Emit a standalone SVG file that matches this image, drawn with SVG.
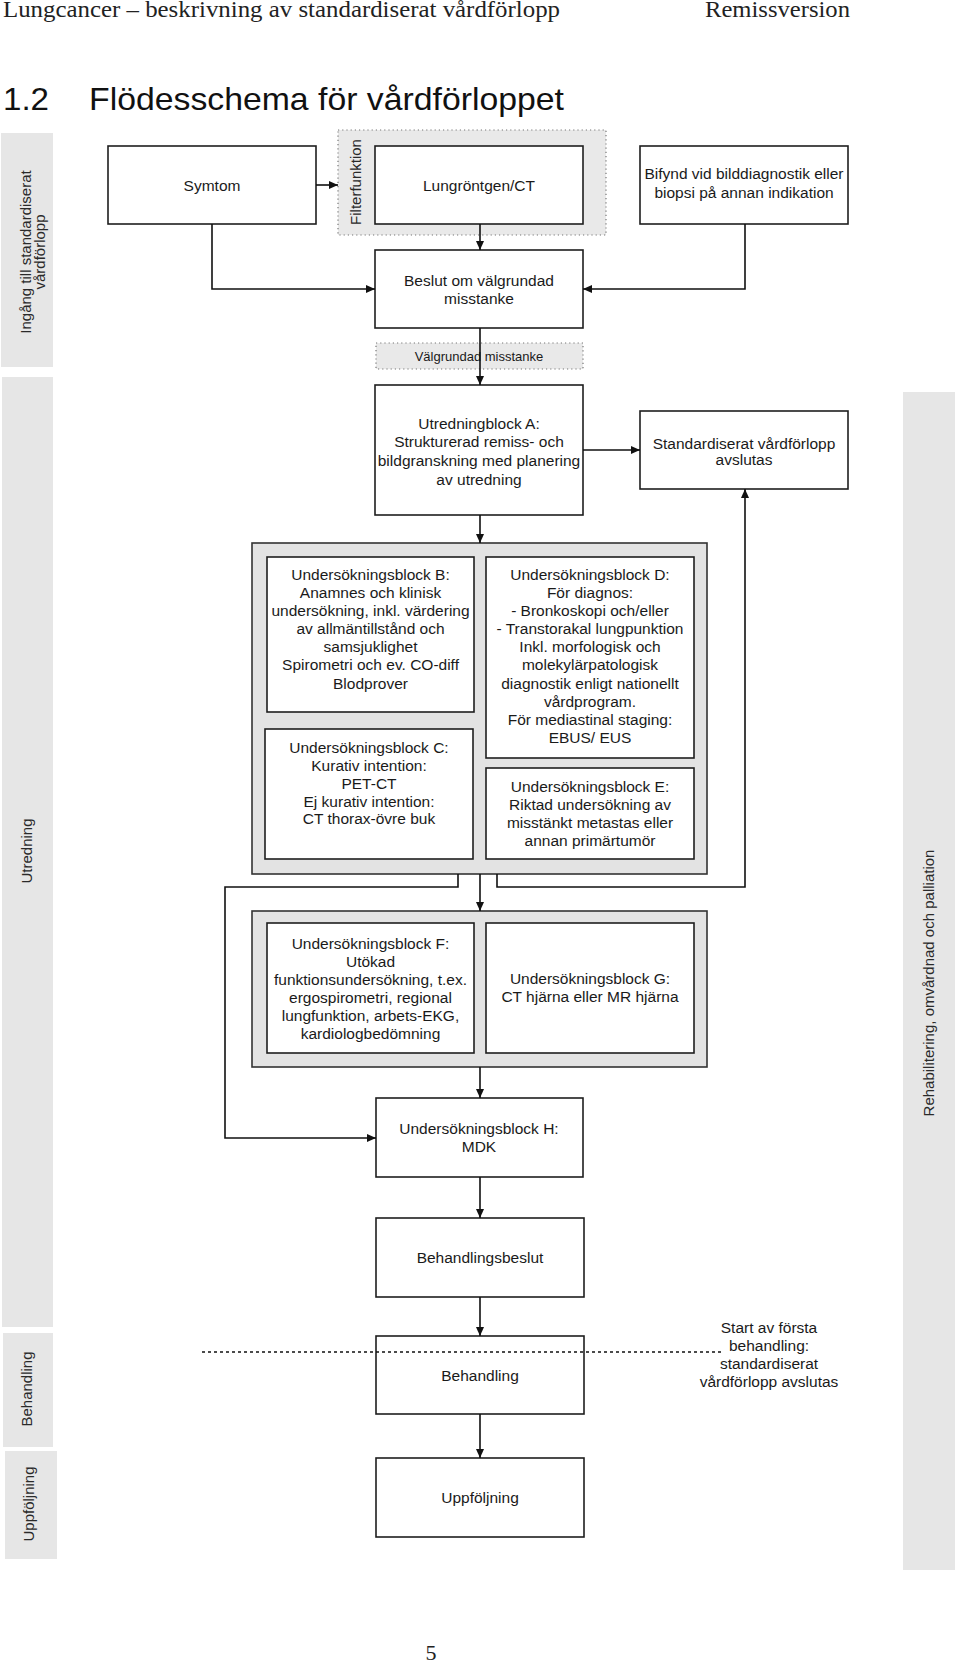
<svg xmlns="http://www.w3.org/2000/svg" width="960" height="1663" viewBox="0 0 960 1663">
<style>
.bg{fill:#ffffff}
.lane{fill:#e6e6e6}
.box{fill:#ffffff;stroke:#1e1e1e;stroke-width:1.6}
.cont{fill:#e3e3e3;stroke:#333333;stroke-width:1.6}
.dot{fill:#e9e9e9;stroke:#777777;stroke-width:1.2;stroke-dasharray:1.2,3}
.t{font-family:"Liberation Sans",Arial,sans-serif;font-size:15.5px;fill:#1a1a1a;text-anchor:middle}
.ts{font-family:"Liberation Sans",Arial,sans-serif;font-size:13px;fill:#1a1a1a;text-anchor:middle}
.lt{font-family:"Liberation Sans",Arial,sans-serif;font-size:15px;fill:#2a2a2a;text-anchor:middle}
.serif{font-family:"Liberation Serif","Times New Roman",serif;fill:#222222}
.conn{fill:none;stroke:#111111;stroke-width:1.6}
</style>
<defs>
<marker id="ah" markerWidth="9" markerHeight="8" refX="9" refY="4" orient="auto" markerUnits="userSpaceOnUse">
<path d="M0,0 L9,4 L0,8 z" fill="#111111"/>
</marker>
</defs>
<rect class="bg" x="0" y="0" width="960" height="1663"/>

<g id="header">
<text class="serif" x="3" y="17" font-size="23" textLength="557" lengthAdjust="spacingAndGlyphs">Lungcancer – beskrivning av standardiserat vårdförlopp</text>
<text class="serif" x="705" y="17" font-size="23" textLength="145" lengthAdjust="spacingAndGlyphs">Remissversion</text>
<text x="3" y="110" font-family="'Liberation Sans',Arial,sans-serif" font-size="32" fill="#111" textLength="46" lengthAdjust="spacingAndGlyphs">1.2</text>
<text x="89" y="110" font-family="'Liberation Sans',Arial,sans-serif" font-size="32" fill="#111" textLength="475" lengthAdjust="spacingAndGlyphs">Flödesschema för vårdförloppet</text>
</g>

<g id="lanes">
<g id="lane-ingang">
<rect class="lane" x="1" y="133" width="52" height="234"/>
<text class="lt" transform="translate(31,252) rotate(-90)">Ingång till standardiserat</text>
<text class="lt" transform="translate(45,252) rotate(-90)">vårdförlopp</text>
</g>
<g id="lane-utredning">
<rect class="lane" x="2" y="377" width="51" height="950"/>
<text class="lt" transform="translate(32,851) rotate(-90)">Utredning</text>
</g>
<g id="lane-behandling">
<rect class="lane" x="3" y="1333" width="50" height="114"/>
<text class="lt" transform="translate(32,1389) rotate(-90)">Behandling</text>
</g>
<g id="lane-uppfoljning">
<rect class="lane" x="5" y="1451" width="52" height="108"/>
<text class="lt" transform="translate(34,1504) rotate(-90)">Uppföljning</text>
</g>
<g id="lane-rehab">
<rect class="lane" x="903" y="392" width="52" height="1178"/>
<text class="lt" transform="translate(934,983) rotate(-90)">Rehabilitering, omvårdnad och palliation</text>
</g>
</g>

<g id="filterfunktion">
<rect class="dot" x="338" y="130" width="268" height="105"/>
<text class="lt" transform="translate(361,182) rotate(-90)">Filterfunktion</text>
</g>

<g id="symtom">
<rect class="box" x="108" y="146" width="208" height="78"/>
<text class="t" x="212" y="190.5">Symtom</text>
</g>
<g id="lungrontgen">
<rect class="box" x="375" y="146" width="208" height="78"/>
<text class="t" x="479" y="190.5">Lungröntgen/CT</text>
</g>
<g id="bifynd">
<rect class="box" x="640" y="146" width="208" height="78"/>
<text class="t" x="744" y="178.5">Bifynd vid bilddiagnostik eller</text>
<text class="t" x="744" y="197.5">biopsi på annan indikation</text>
</g>
<g id="beslut">
<rect class="box" x="375" y="250" width="208" height="78"/>
<text class="t" x="479" y="285.5">Beslut om välgrundad</text>
<text class="t" x="479" y="303.5">misstanke</text>
</g>
<g id="valgrundad">
<rect class="dot" x="376" y="343" width="207" height="26"/>
<text class="ts" x="479" y="360.5">Välgrundad misstanke</text>
</g>
<g id="blockA">
<rect class="box" x="375" y="385" width="208" height="130"/>
<text class="t" x="479" y="428.5">Utredningblock A:</text>
<text class="t" x="479" y="447">Strukturerad remiss- och</text>
<text class="t" x="479" y="466">bildgranskning med planering</text>
<text class="t" x="479" y="484.5">av utredning</text>
</g>
<g id="avslutas">
<rect class="box" x="640" y="411" width="208" height="78"/>
<text class="t" x="744" y="448.5">Standardiserat vårdförlopp</text>
<text class="t" x="744" y="465">avslutas</text>
</g>

<g id="container1">
<rect class="cont" x="252" y="543" width="455" height="331"/>
</g>
<g id="blockB">
<rect class="box" x="267" y="557" width="207" height="155"/>
<text class="t" x="370.5" y="579.5">Undersökningsblock B:</text>
<text class="t" x="370.5" y="597.5">Anamnes och klinisk</text>
<text class="t" x="370.5" y="615.5">undersökning, inkl. värdering</text>
<text class="t" x="370.5" y="633.5">av allmäntillstånd och</text>
<text class="t" x="370.5" y="652">samsjuklighet</text>
<text class="t" x="370.5" y="670">Spirometri och ev. CO-diff</text>
<text class="t" x="370.5" y="688.5">Blodprover</text>
</g>
<g id="blockC">
<rect class="box" x="265" y="729" width="208" height="130"/>
<text class="t" x="369" y="752.5">Undersökningsblock C:</text>
<text class="t" x="369" y="770.5">Kurativ intention:</text>
<text class="t" x="369" y="788.5">PET-CT</text>
<text class="t" x="369" y="806.5">Ej kurativ intention:</text>
<text class="t" x="369" y="823.5">CT thorax-övre buk</text>
</g>
<g id="blockD">
<rect class="box" x="486" y="557" width="208" height="201"/>
<text class="t" x="590" y="579.5">Undersökningsblock D:</text>
<text class="t" x="590" y="597.5">För diagnos:</text>
<text class="t" x="590" y="615.5">- Bronkoskopi och/eller</text>
<text class="t" x="590" y="633.5">- Transtorakal lungpunktion</text>
<text class="t" x="590" y="652">Inkl. morfologisk och</text>
<text class="t" x="590" y="670">molekylärpatologisk</text>
<text class="t" x="590" y="688.5">diagnostik enligt nationellt</text>
<text class="t" x="590" y="707">vårdprogram.</text>
<text class="t" x="590" y="724.5">För mediastinal staging:</text>
<text class="t" x="590" y="742.5">EBUS/ EUS</text>
</g>
<g id="blockE">
<rect class="box" x="486" y="768" width="208" height="91"/>
<text class="t" x="590" y="791.5">Undersökningsblock E:</text>
<text class="t" x="590" y="809.5">Riktad undersökning av</text>
<text class="t" x="590" y="827.5">misstänkt metastas eller</text>
<text class="t" x="590" y="845.5">annan primärtumör</text>
</g>

<g id="container2">
<rect class="cont" x="252" y="911" width="455" height="156"/>
</g>
<g id="blockF">
<rect class="box" x="267" y="923" width="207" height="130"/>
<text class="t" x="370.5" y="948.5">Undersökningsblock F:</text>
<text class="t" x="370.5" y="966.5">Utökad</text>
<text class="t" x="370.5" y="984.5">funktionsundersökning, t.ex.</text>
<text class="t" x="370.5" y="1002.5">ergospirometri, regional</text>
<text class="t" x="370.5" y="1020.5">lungfunktion, arbets-EKG,</text>
<text class="t" x="370.5" y="1038.5">kardiologbedömning</text>
</g>
<g id="blockG">
<rect class="box" x="486" y="923" width="208" height="130"/>
<text class="t" x="590" y="983.5">Undersökningsblock G:</text>
<text class="t" x="590" y="1002">CT hjärna eller MR hjärna</text>
</g>
<g id="blockH">
<rect class="box" x="376" y="1098" width="207" height="79"/>
<text class="t" x="479" y="1133.5">Undersökningsblock H:</text>
<text class="t" x="479" y="1152">MDK</text>
</g>
<g id="behandlingsbeslut">
<rect class="box" x="376" y="1218" width="208" height="79"/>
<text class="t" x="480" y="1262.5">Behandlingsbeslut</text>
</g>
<g id="behandling">
<rect class="box" x="376" y="1336" width="208" height="78"/>
<text class="t" x="480" y="1380.5">Behandling</text>
</g>
<g id="uppfoljning">
<rect class="box" x="376" y="1458" width="208" height="79"/>
<text class="t" x="480" y="1502.5">Uppföljning</text>
</g>

<g id="start-note">
<text class="t" x="769" y="1332.5">Start av första</text>
<text class="t" x="769" y="1351">behandling:</text>
<text class="t" x="769" y="1368.5">standardiserat</text>
<text class="t" x="769" y="1387">vårdförlopp avslutas</text>
</g>

<g id="connectors">
<path class="conn" d="M316,185 H338" marker-end="url(#ah)"/>
<path class="conn" d="M480,224 V250" marker-end="url(#ah)"/>
<path class="conn" d="M212,224 V289 H375" marker-end="url(#ah)"/>
<path class="conn" d="M745,224 V289 H583" marker-end="url(#ah)"/>
<path class="conn" d="M480,328 V385" marker-end="url(#ah)"/>
<path class="conn" d="M583,450 H640" marker-end="url(#ah)"/>
<path class="conn" d="M480,515 V543" marker-end="url(#ah)"/>
<path class="conn" d="M480,874 V911" marker-end="url(#ah)"/>
<path class="conn" d="M458,874 V887 H225 V1138 H376" marker-end="url(#ah)"/>
<path class="conn" d="M497,874 V887 H745 V489" marker-end="url(#ah)"/>
<path class="conn" d="M480,1067 V1098" marker-end="url(#ah)"/>
<path class="conn" d="M480,1177 V1218" marker-end="url(#ah)"/>
<path class="conn" d="M480,1297 V1336" marker-end="url(#ah)"/>
<path class="conn" d="M480,1414 V1458" marker-end="url(#ah)"/>
<path d="M202,1352 H724" fill="none" stroke="#111111" stroke-width="1.3" stroke-dasharray="3,3"/>
</g>

<g id="footer">
<text class="serif" x="431" y="1660" font-size="22" text-anchor="middle">5</text>
</g>
</svg>
